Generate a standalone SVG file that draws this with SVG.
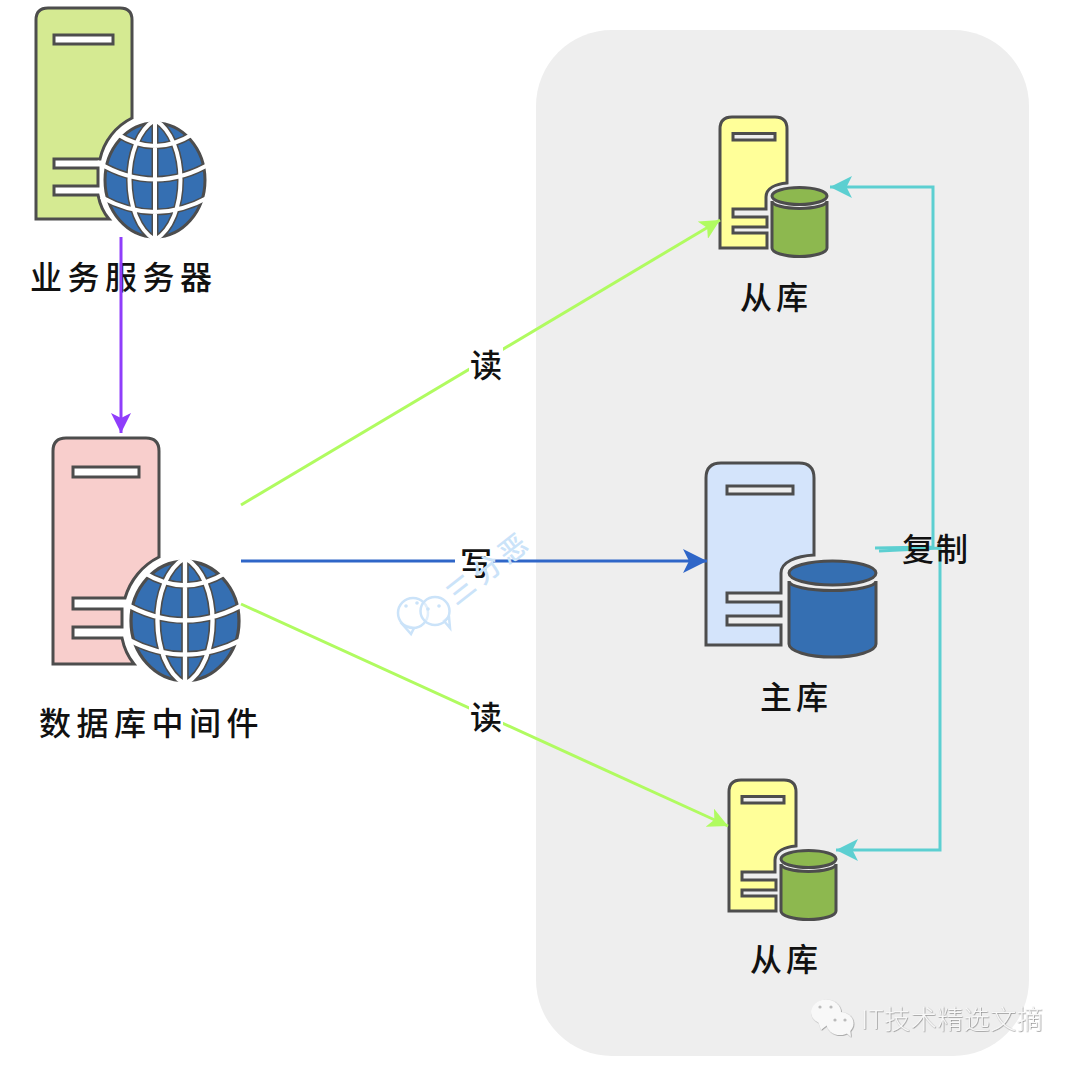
<svg xmlns="http://www.w3.org/2000/svg" width="1080" height="1068" viewBox="0 0 1080 1068">
  <style>
    .label { font-family: "Noto Sans CJK SC", "Liberation Sans", sans-serif; font-size: 32px; font-weight: 500; fill: #111; }
    .outline { stroke: #4d4d4d; stroke-width: 3; stroke-linejoin: miter; }
    .slot-white { fill: #fff; }
    .slot-grey { fill: #eee; }
    .blue { fill: #356fb2; }
    .olive { fill: #8db84f; }
    .grid-dark { fill: none; stroke: #4d4d4d; stroke-width: 7; }
    .grid-light { fill: none; stroke: #fff; stroke-width: 4; }
    .link { fill: none; stroke-width: 3; }
    .violet { stroke: #8f3dfb; }
    .lime { stroke: #b0fb60; }
    .cobalt { stroke: #2f66c8; }
    .teal { stroke: #5ccfd1; }
    .stamp { font-family: "Noto Sans CJK SC", "Liberation Sans", sans-serif; }
  </style>
  <defs>
    <marker id="arrow-violet" viewBox="0 0 20 20" refX="20" refY="10" markerWidth="20" markerHeight="20" markerUnits="userSpaceOnUse" orient="auto"><path d="M0,0 L20,10 L0,20 L5,10 Z" fill="#8f3dfb"/></marker>
    <marker id="arrow-lime" viewBox="0 0 20 20" refX="20" refY="10" markerWidth="20" markerHeight="20" markerUnits="userSpaceOnUse" orient="auto"><path d="M0,0 L20,10 L0,20 L5,10 Z" fill="#b0fb60"/></marker>
    <marker id="arrow-cobalt" viewBox="0 0 20 20" refX="20" refY="10" markerWidth="24" markerHeight="24" markerUnits="userSpaceOnUse" orient="auto"><path d="M0,0 L20,10 L0,20 L5,10 Z" fill="#2f66c8"/></marker>
    <marker id="arrow-teal" viewBox="0 0 20 20" refX="20" refY="10" markerWidth="22" markerHeight="22" markerUnits="userSpaceOnUse" orient="auto"><path d="M0,0 L20,10 L0,20 L5,10 Z" fill="#5ccfd1"/></marker>
    <clipPath id="ball"><ellipse cx="0" cy="0" rx="50" ry="57"/></clipPath>
    <path id="grid-lines" d="M0,-64V64 M0,-60 C-34,-40 -34,40 0,60 M0,-60 C34,-40 34,40 0,60 M-38,-46 Q0,-22 38,-46 M-58,-18 Q0,17 58,-18 M-54,17 Q0,47 54,17"/>
    <g id="globe">
      <ellipse rx="50" ry="57" class="blue outline"/>
      <use href="#grid-lines" class="grid-dark" clip-path="url(#ball)"/>
      <use href="#grid-lines" class="grid-light"/>
    </g>
    <!-- small database server, drawn at the upper replica's position -->
    <g id="replica-art">
      <path class="outline" fill="#ffff99" d="M720,248 V129 Q720,117 732,117 H775 Q787,117 787,129 V183 C776,184 766,188 766,197 V209 H733 V217 H767 V227 H733 V233 H767 V248 Z"/>
      <rect class="outline slot-grey" x="733" y="133.500" width="42" height="6.500"/>
      <path class="outline olive" d="M772,201 A27.500 7.500 0 0 0 827,201 V248 A27.500 8.500 0 0 1 772,248 Z"/>
      <ellipse class="outline olive" cx="799.500" cy="196" rx="27.500" ry="8.500"/>
    </g>
  </defs>

  <rect id="replica-zone" x="536" y="30" width="493" height="1026" rx="76" ry="76" fill="#eee"/>

  <g id="app-server">
    <path class="outline" fill="#d5ea92" d="M36,219 V20 Q36,8 48,8 H120 Q132,8 132,20 V118 A60,60 0 0 0 100,159 H54 V168 H98 V186 H54 V195 H98 Q101,210 109,219 Z"/>
    <rect class="outline slot-white" x="54" y="35" width="59" height="9"/>
    <use href="#globe" transform="translate(155 180)"/>
    <text class="label" x="30" y="289" letter-spacing="5.500">业务服务器</text>
  </g>

  <g id="db-middleware">
    <path class="outline" fill="#f8cecc" d="M53,664 V451 Q53,438 66,438 H146 Q159,438 159,451 V557 A66,66 0 0 0 125,598 H73 V609 H122 V627 H73 V638 H122 Q125,653 134,664 Z"/>
    <rect class="outline slot-white" x="73" y="467" width="66" height="10"/>
    <use href="#globe" transform="translate(185 621) scale(1.08 1.05)"/>
    <text class="label" x="39" y="735" letter-spacing="5.500">数据库中间件</text>
  </g>

  <g id="replica-top">
    <use href="#replica-art"/>
    <text class="label" x="740" y="309" letter-spacing="4">从库</text>
  </g>

  <g id="primary-db">
    <path class="outline" fill="#d4e4fb" d="M706,645 V478 Q706,463 721,463 H799 Q814,463 814,478 V555 C796,556 781,562 781,573 V593 H727 V602 H781 V616 H727 V625 H781 V645 Z"/>
    <rect class="outline slot-grey" x="727" y="486" width="66" height="8"/>
    <path class="outline blue" d="M789,581 A43.500 9.500 0 0 0 876,581 V644 A43.500 13 0 0 1 789,644 Z"/>
    <ellipse class="outline blue" cx="832.500" cy="573" rx="43.500" ry="12"/>
    <text class="label" x="760" y="709" letter-spacing="4">主库</text>
  </g>

  <g id="replica-bottom">
    <use href="#replica-art" transform="translate(9 663)"/>
    <text class="label" x="750" y="971" letter-spacing="4">从库</text>
  </g>

  <g id="connectors">
    <path class="link violet" d="M121,237 V433" marker-end="url(#arrow-violet)"/>
    <path class="link lime" d="M241,505 L720,220" marker-end="url(#arrow-lime)"/>
    <path class="link cobalt" d="M241,561 H707" marker-end="url(#arrow-cobalt)"/>
    <path class="link lime" d="M241,604 L728,826" marker-end="url(#arrow-lime)"/>
    <path class="link teal" d="M875,548 L933,547 V187 H830" marker-end="url(#arrow-teal)"/>
    <path class="link teal" d="M879,551 L940,548 V850 H836" marker-end="url(#arrow-teal)"/>
  </g>

  <g id="edge-labels">
    <rect x="469" y="346" width="34" height="38" fill="#fff"/>
    <text class="label" x="470" y="377">读</text>
    <rect x="455" y="546" width="38" height="34" fill="#fff"/>
    <text class="label" x="460" y="575">写</text>
    <rect x="469" y="698" width="34" height="38" fill="#fff"/>
    <text class="label" x="470" y="729">读</text>
    <text class="label" x="902" y="561" letter-spacing="2">复制</text>
  </g>

  <!-- faint author stamp across the write link -->
  <g id="author-stamp">
    <g fill="#fff" fill-opacity="0.4" stroke="#cbe3f9" stroke-width="2.500">
      <path d="M403,625 L411,634 L414,628 Z"/>
      <ellipse cx="413" cy="613" rx="15" ry="15"/>
      <path d="M444,621 L450,628 L449,617 Z"/>
      <ellipse cx="435" cy="611" rx="14.500" ry="14"/>
    </g>
    <g fill="#cbe3f9">
      <circle cx="406" cy="606" r="1.800"/><circle cx="417" cy="603" r="1.800"/>
      <circle cx="428" cy="609" r="1.800"/><circle cx="439" cy="606" r="1.800"/>
    </g>
    <text class="stamp" transform="translate(456 606) rotate(-38)" font-size="28" font-weight="500" fill="#cbe3f9" letter-spacing="5">三分恶</text>
  </g>

  <!-- publisher mark in the lower right -->
  <filter id="emboss" x="-5%" y="-20%" width="110%" height="140%">
    <feDropShadow dx="0.600" dy="0.600" stdDeviation="0.500" flood-color="#777" flood-opacity="0.900"/>
  </filter>
  <g id="publisher-mark" filter="url(#emboss)" fill="#f8f8f8">
    <ellipse cx="826" cy="1012" rx="15" ry="12.500"/>
    <path d="M818,1021 L821,1030 L830,1023 Z"/>
    <ellipse cx="840" cy="1023.500" rx="13.500" ry="11.500"/>
    <path d="M845,1032 L851,1037 L850,1028 Z"/>
    <circle cx="820" cy="1007" r="1.600" fill="#bbb"/><circle cx="831" cy="1007" r="1.600" fill="#bbb"/>
    <circle cx="835" cy="1020" r="1.600" fill="#bbb"/><circle cx="845" cy="1020" r="1.600" fill="#bbb"/>
    <text x="861" y="1029" class="stamp" font-size="26" font-weight="300" letter-spacing="0.500">IT技术精选文摘</text>
  </g>
</svg>
